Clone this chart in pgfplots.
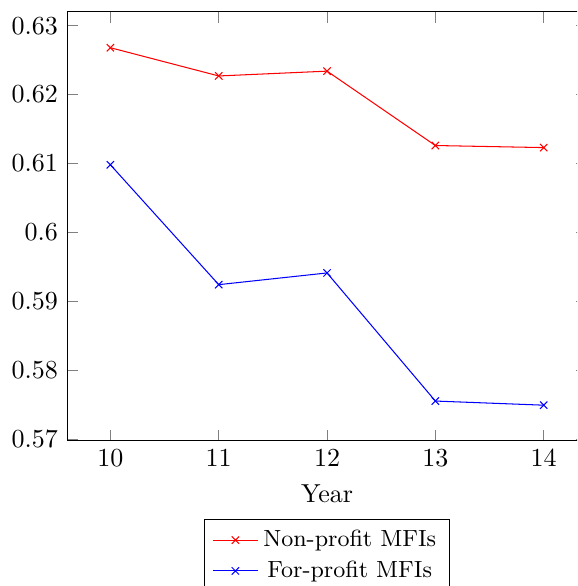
\documentclass[border=0pt]{standalone}
\usepackage{pgfplots}
\pgfplotsset{compat=1.18}
\begin{document}
\begin{tikzpicture}
% the reference is a crop of a larger figure
\path[use as bounding box, clip] (-25.8pt,-55.8pt) rectangle (196.2pt,169.6pt);
\begin{axis}[
    scale only axis,
    width=200pt,
    height=165pt,
    xlabel={Year},
    xtick={10,11,12,13,14},
    ytick={0.57,0.58,0.59,0.6,0.61,0.62,0.63},
    legend style={at={(0.5,-0.182)}, anchor=north, font=\small},
    legend cell align=center,
]
\addplot[red, mark=x] coordinates {(10,0.6268) (11,0.6227) (12,0.6234) (13,0.6126) (14,0.6123)};
\addplot[blue, mark=x] coordinates {(10,0.6098) (11,0.5924) (12,0.5941) (13,0.5755) (14,0.5749)};
\legend{Non-profit MFIs, For-profit MFIs}
\end{axis}
\end{tikzpicture}
\end{document}
